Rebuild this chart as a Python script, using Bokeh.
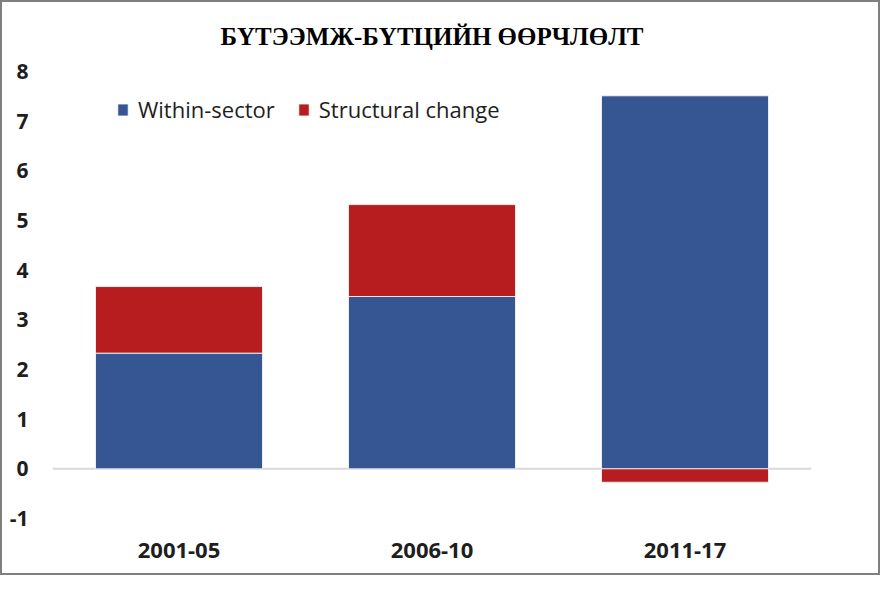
import numpy as np
from bokeh.plotting import figure
from bokeh.models import (FactorRange, Range1d, FixedTicker, Span, Legend,
                          LegendItem, ColumnDataSource, Title)
from bokeh.embed import file_html
from bokeh.resources import INLINE

# ---- data ----
periods = ["2001-05", "2006-10", "2011-17"]
within_sector = [2.33, 3.47, 7.51]
structural_change = [1.34, 1.85, -0.27]
y_ticks = [-1, 0, 1, 2, 3, 4, 5, 6, 7, 8]
y_tick_labels = ["-1", "0", "1", "2", "3", "4", "5", "6", "7", "8"]
title_text = "БҮТЭЭМЖ-БҮТЦИЙН ӨӨРЧЛӨЛТ"
series_names = ["Within-sector", "Structural change"]

BLUE = "#355593"
RED = "#B71C1F"

w = np.array(within_sector)
s = np.array(structural_change)
red_bottom = np.where(s >= 0, w, 0.0)
red_top = np.where(s >= 0, w + s, s)

src = ColumnDataSource(dict(x=periods, wb=np.zeros_like(w), wt=w,
                            rb=red_bottom, rt=red_top))

p = figure(width=880, height=575, x_range=FactorRange(*periods, range_padding=0),
           y_range=Range1d(-1, 8), output_backend="svg", toolbar_location=None,
           min_border_left=50, min_border_right=71, min_border_top=69,
           min_border_bottom=59)

p.title = Title(text=title_text, align="center", vertical_align="top",
                text_font="Liberation Serif", text_font_style="bold",
                text_font_size="25px", text_color="#000000")
p.title.offset = 0
p.title.standoff = 40

p.xgrid.visible = False
p.ygrid.visible = False
p.outline_line_color = None
p.background_fill_color = "white"
p.border_fill_color = "white"

zero = Span(location=0, dimension="width", line_color="#d9d9d9", line_width=2,
            level="underlay")
p.add_layout(zero)

r_blue = p.vbar(x="x", bottom="wb", top="wt", width=0.66, source=src,
                fill_color=BLUE, line_color="#ffffff", line_width=0.8)
r_red = p.vbar(x="x", bottom="rb", top="rt", width=0.66, source=src,
               fill_color=RED, line_color="#ffffff", line_width=0.8)

p.yaxis.ticker = FixedTicker(ticks=y_ticks)
p.yaxis.major_label_overrides = {t: lab for t, lab in zip(y_ticks, y_tick_labels)}
p.yaxis.axis_line_color = None
p.yaxis.major_tick_line_color = None
p.yaxis.minor_tick_line_color = None
p.yaxis.major_label_text_font = "Open Sans"
p.yaxis.major_label_text_font_style = "bold"
p.yaxis.major_label_text_font_size = "21px"
p.yaxis.major_label_text_color = "#1e1e1e"
p.yaxis.major_label_standoff = 18

p.xaxis.axis_line_color = None
p.xaxis.major_tick_line_color = None
p.xaxis.minor_tick_line_color = None
p.xaxis.major_label_text_font = "Open Sans"
p.xaxis.major_label_text_font_style = "bold"
p.xaxis.major_label_text_font_size = "22px"
p.xaxis.major_label_text_color = "#1e1e1e"
p.xaxis.major_label_standoff = 18

legend = Legend(items=[LegendItem(label=series_names[0], renderers=[r_blue]),
                       LegendItem(label=series_names[1], renderers=[r_red])],
                orientation="horizontal", location=(64, 394),
                glyph_width=13, glyph_height=15, label_text_font="Open Sans",
                label_text_font_size="22px", label_text_color="#1e1e1e",
                padding=0, spacing=22, margin=0, label_standoff=9,
                border_line_color=None, background_fill_alpha=0)
p.add_layout(legend)

p.styles = {"border": "2px solid #7f7f7f", "box-sizing": "border-box"}

open("out.html", "w").write(file_html(p, INLINE))
